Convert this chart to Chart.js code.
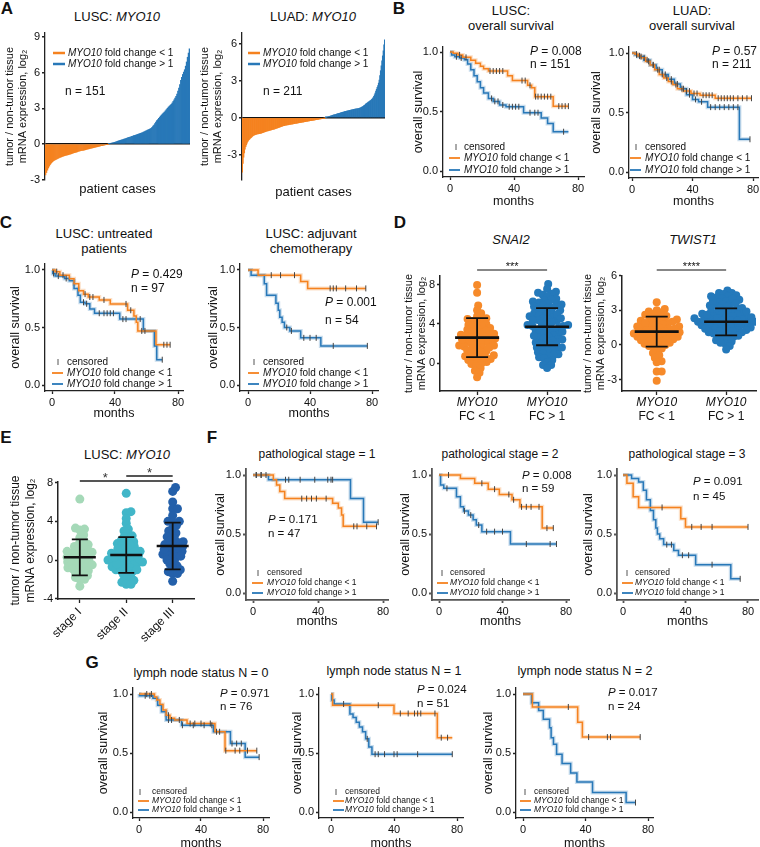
<!DOCTYPE html>
<html>
<head>
<meta charset="utf-8">
<script src="https://cdn.jsdelivr.net/npm/chart.js@4.4.1/dist/chart.umd.min.js"></script>
<style>
  body { margin: 0; width: 760px; height: 847px; position: relative; overflow: hidden; background: #fff;
         font-family: "Liberation Sans", Arial, sans-serif; color: #111; }
  canvas { position: absolute; }
  .lbl { position: absolute; transform: translate(-50%, -50%); white-space: nowrap; font-size: 13px; line-height: 15px; text-align: center; }
  .let { position: absolute; transform: translate(-50%, -50%); font-weight: bold; font-size: 17px; }
</style>
</head>
<body>
<div class="let" style="left:7px;top:9px">A</div>
<div class="let" style="left:399px;top:9px">B</div>
<div class="let" style="left:6px;top:223px">C</div>
<div class="let" style="left:400px;top:223px">D</div>
<div class="let" style="left:6px;top:438px">E</div>
<div class="let" style="left:212px;top:438px">F</div>
<div class="let" style="left:92px;top:663px">G</div>

<div class="lbl" style="left:117px;top:16px">LUSC: <i>MYO10</i></div>
<div class="lbl" style="left:313px;top:16px">LUAD: <i>MYO10</i></div>
<div class="lbl" style="left:511px;top:18px">LUSC:<br>overall survival</div>
<div class="lbl" style="left:692px;top:18px">LUAD:<br>overall survival</div>
<div class="lbl" style="left:104px;top:241px">LUSC: untreated<br>patients</div>
<div class="lbl" style="left:311px;top:241px">LUSC: adjuvant<br>chemotherapy</div>
<div class="lbl" style="left:511px;top:239px"><i>SNAI2</i></div>
<div class="lbl" style="left:693px;top:239px"><i>TWIST1</i></div>
<div class="lbl" style="left:127px;top:454px">LUSC: <i>MYO10</i></div>
<div class="lbl" style="left:317px;top:454px;font-size:12px">pathological stage = 1</div>
<div class="lbl" style="left:500px;top:454px;font-size:12px">pathological stage = 2</div>
<div class="lbl" style="left:687px;top:454px;font-size:12px">pathological stage = 3</div>
<div class="lbl" style="left:201px;top:673px;font-size:12.5px">lymph node status N = 0</div>
<div class="lbl" style="left:394px;top:671px;font-size:12.5px">lymph node status N = 1</div>
<div class="lbl" style="left:585px;top:671px;font-size:12.5px">lymph node status N = 2</div>

<script>
// ---------- A: tumor / non-tumor MYO10, sorted per patient ----------
const luscNeg = [
  -2.60,-2.40,-2.20,-2.02,-1.86,-1.72,-1.61,-1.52,-1.45,-1.39,
  -1.34,-1.29,-1.25,-1.21,-1.17,-1.13,-1.10,-1.07,-1.04,-1.01,
  -0.98,-0.96,-0.94,-0.92,-0.90,-0.87,-0.85,-0.82,-0.79,-0.76,
  -0.73,-0.71,-0.69,-0.66,-0.63,-0.61,-0.59,-0.57,-0.55,-0.53,
  -0.51,-0.49,-0.47,-0.45,-0.43,-0.41,-0.39,-0.37,-0.35,-0.33,
  -0.31,-0.29,-0.27,-0.25,-0.23,-0.21,-0.19,-0.17,-0.15,-0.13,
  -0.11,-0.09,-0.07,-0.05,-0.03,-0.01];
const luscPos = [
  0.02,0.04,0.06,0.08,0.10,0.12,0.14,0.17,0.20,0.23,
  0.26,0.29,0.31,0.34,0.36,0.39,0.42,0.44,0.47,0.50,
  0.53,0.56,0.58,0.61,0.64,0.67,0.70,0.72,0.75,0.78,
  0.81,0.84,0.87,0.90,0.93,0.96,1.00,1.04,1.08,1.12,
  1.16,1.20,1.24,1.28,1.32,1.40,1.50,1.60,1.72,1.84,
  1.96,2.06,2.16,2.26,2.36,2.45,2.54,2.62,2.70,2.80,
  2.90,3.00,3.10,3.18,3.26,3.34,3.45,3.58,3.72,3.86,
  4.00,4.20,4.45,4.70,5.00,5.35,5.60,5.85,6.05,6.25,
  6.55,6.90,7.30,7.65,8.00];
const luadNeg = [
  -4.40,-3.70,-3.20,-2.85,-2.55,-2.35,-2.20,-2.05,-1.93,-1.84,
  -1.78,-1.72,-1.66,-1.61,-1.56,-1.51,-1.46,-1.42,-1.40,-1.38,
  -1.36,-1.34,-1.32,-1.31,-1.30,-1.29,-1.28,-1.27,-1.25,-1.23,
  -1.21,-1.19,-1.17,-1.15,-1.13,-1.11,-1.09,-1.07,-1.06,-1.04,
  -1.03,-1.01,-1.00,-0.98,-0.97,-0.95,-0.94,-0.92,-0.90,-0.88,
  -0.87,-0.85,-0.83,-0.81,-0.79,-0.77,-0.75,-0.73,-0.71,-0.69,
  -0.67,-0.65,-0.64,-0.62,-0.61,-0.60,-0.59,-0.58,-0.57,-0.56,
  -0.55,-0.54,-0.53,-0.52,-0.51,-0.50,-0.49,-0.48,-0.47,-0.46,
  -0.45,-0.44,-0.43,-0.42,-0.41,-0.40,-0.39,-0.38,-0.37,-0.36,
  -0.35,-0.34,-0.33,-0.32,-0.31,-0.30,-0.29,-0.28,-0.27,-0.26,
  -0.25,-0.24,-0.23,-0.22,-0.21,-0.20,-0.19,-0.18,-0.17,-0.16,
  -0.15,-0.14,-0.13,-0.12,-0.11,-0.10,-0.09,-0.08,-0.07,-0.06,
  -0.04,-0.03,-0.01];
const luadPos = [
  0.01,0.03,0.05,0.07,0.09,0.10,0.12,0.14,0.16,0.18,
  0.19,0.21,0.23,0.24,0.26,0.28,0.29,0.31,0.33,0.34,
  0.36,0.38,0.39,0.41,0.43,0.44,0.46,0.48,0.49,0.51,
  0.52,0.53,0.55,0.56,0.58,0.59,0.60,0.62,0.63,0.64,
  0.66,0.67,0.68,0.69,0.70,0.71,0.72,0.73,0.74,0.75,
  0.77,0.79,0.82,0.85,0.88,0.92,0.96,1.00,1.05,1.10,
  1.15,1.19,1.23,1.27,1.31,1.35,1.39,1.43,1.48,1.55,
  1.62,1.72,1.85,2.00,2.15,2.30,2.45,2.60,2.80,3.05,
  3.40,3.80,4.20,4.60,5.00,5.40,5.90,6.30];
const luscTicks = [-3, 0, 3, 6, 9];
const luadTicks = [-3, 0, 3, 6];

// ---------- Kaplan-Meier: step times, survival after step, censor times ----------
const bLuscLoT = [0, 2, 5, 8, 13, 16, 19, 21, 24, 36, 39, 48.5, 51, 53, 64.5, 74];
const bLuscLoS = [1, 0.99, 0.975, 0.955, 0.93, 0.905, 0.88, 0.86, 0.84, 0.80, 0.76, 0.72, 0.70, 0.625, 0.545, 0.545];
const bLuscLoC = [6, 10, 25, 27, 29, 31, 33, 45, 47, 50, 53.5, 55, 57, 59, 61, 63, 68, 70, 72, 74];
const bLuscHiT = [0, 1, 3, 6, 9, 11, 13, 15, 17, 19, 21, 24, 27, 31, 35, 46, 57, 61, 64.5, 74];
const bLuscHiS = [1, 0.975, 0.96, 0.95, 0.935, 0.90, 0.85, 0.80, 0.75, 0.70, 0.655, 0.61, 0.585, 0.555, 0.54, 0.49, 0.445, 0.40, 0.33, 0.33];
const bLuscHiC = [4, 7, 26, 28, 30, 33, 37, 39, 41, 43, 50, 53, 55, 71];

const bLuadLoT = [0, 2, 4, 6, 9, 12, 15, 18, 21, 24, 27, 30, 34, 39, 45, 55, 79];
const bLuadLoS = [1, 0.99, 0.975, 0.96, 0.93, 0.90, 0.86, 0.82, 0.79, 0.76, 0.735, 0.70, 0.68, 0.66, 0.645, 0.62, 0.62];
const bLuadLoC = [3, 5, 8, 11, 14, 17, 20, 23, 26, 29, 33, 36, 38, 41, 43, 47, 49, 51, 53, 57, 59, 61, 63, 65, 67, 70, 73, 76, 79];
const bLuadHiT = [0, 2, 4, 8, 12, 16, 20, 24, 28, 32, 36, 40, 44, 50, 71, 78];
const bLuadHiS = [1, 0.985, 0.97, 0.94, 0.90, 0.86, 0.82, 0.78, 0.74, 0.70, 0.65, 0.61, 0.59, 0.545, 0.275, 0.275];
const bLuadHiC = [3, 6, 10, 14, 18, 22, 26, 30, 34, 38, 42, 46, 52, 55, 58, 61, 64, 67, 70, 78];

const cUntrLoT = [0, 2, 5, 11, 14, 17, 20, 23, 30, 37, 48, 52, 53.5, 54.5, 66, 75];
const cUntrLoS = [1, 0.985, 0.955, 0.925, 0.88, 0.82, 0.79, 0.765, 0.74, 0.705, 0.65, 0.60, 0.545, 0.47, 0.35, 0.35];
const cUntrLoC = [3, 7, 21, 24, 26, 33, 47, 50, 57, 59, 71, 73, 75];
const cUntrHiT = [0, 0.5, 2, 8, 11, 14, 16.5, 18, 21, 24, 27, 43, 58, 65, 66.5, 70];
const cUntrHiS = [1, 0.97, 0.947, 0.926, 0.906, 0.84, 0.78, 0.72, 0.706, 0.66, 0.624, 0.573, 0.47, 0.34, 0.22, 0.22];
const cUntrHiC = [1, 4, 9, 20, 22, 30, 33, 35, 37, 39, 45, 47, 56, 70];

const cAdjLoT = [0, 6.5, 34, 38.5, 76];
const cAdjLoS = [1, 0.955, 0.90, 0.84, 0.84];
const cAdjLoC = [15, 21, 30, 53, 55, 57, 63, 70, 76];
const cAdjHiT = [0, 2, 10.5, 12, 18, 19.5, 20.5, 22, 23.5, 27, 34, 47, 77];
const cAdjHiS = [1, 0.955, 0.88, 0.78, 0.71, 0.65, 0.59, 0.545, 0.50, 0.47, 0.41, 0.34, 0.34];
const cAdjHiC = [25, 28, 36, 40, 44, 55, 77];

const fSt1LoT = [0, 12.5, 14.5, 16.5, 19.5, 49, 52.5, 54.5, 55.5, 76];
const fSt1LoS = [1, 0.96, 0.915, 0.86, 0.80, 0.76, 0.72, 0.66, 0.565, 0.565];
const fSt1LoC = [2, 5, 30, 33, 36, 39, 45, 62, 64, 70, 76];
const fSt1HiT = [0, 9.5, 60, 68, 77];
const fSt1HiS = [1, 0.96, 0.80, 0.60, 0.60];
const fSt1HiC = [2, 5, 8, 20, 22, 29, 38, 46, 48, 49, 77];

const fSt2LoT = [0, 13.5, 22.5, 31, 38, 46, 51, 65, 72];
const fSt2LoS = [1, 0.97, 0.93, 0.88, 0.835, 0.79, 0.73, 0.55, 0.55];
const fSt2LoC = [6, 27, 35, 44, 47, 52, 55, 58, 63, 68, 72];
const fSt2HiT = [0, 1, 3, 11, 13.5, 15.5, 18.5, 21.5, 23.5, 27, 45, 74];
const fSt2HiS = [1, 0.915, 0.887, 0.816, 0.73, 0.695, 0.66, 0.62, 0.576, 0.52, 0.415, 0.415];
const fSt2HiC = [5, 16, 20, 25, 30, 35, 40, 55, 70, 74];

const fSt3LoT = [0, 2.5, 6.5, 10, 37, 40, 80];
const fSt3LoS = [1, 0.93, 0.815, 0.725, 0.63, 0.56, 0.56];
const fSt3LoC = [25, 44, 50, 57, 80];
const fSt3HiT = [0, 5.5, 10, 13, 15, 17.5, 19.5, 21, 22, 23.5, 26, 32.5, 35.5, 46.5, 69, 75];
const fSt3HiS = [1, 0.97, 0.94, 0.87, 0.79, 0.70, 0.62, 0.55, 0.50, 0.46, 0.41, 0.36, 0.32, 0.24, 0.12, 0.12];
const fSt3HiC = [28, 31, 38, 42, 57, 75];

const gN0LoT = [0, 10, 11.5, 13.5, 15.5, 17.5, 20, 23, 31, 49, 55.5, 76];
const gN0LoS = [1, 0.975, 0.95, 0.91, 0.865, 0.82, 0.795, 0.78, 0.75, 0.68, 0.52, 0.52];
const gN0LoC = [5, 8, 19, 26, 33, 36, 40, 46, 50, 56, 62, 65, 70, 76];
const gN0HiT = [0, 0.3, 9, 12, 14.5, 17.5, 27.5, 48, 59, 68.5, 77.5];
const gN0HiS = [1, 0.985, 0.965, 0.905, 0.85, 0.78, 0.735, 0.68, 0.58, 0.465, 0.465];
const gN0HiC = [4, 7, 19, 21, 28, 35, 42, 47, 52, 60, 63, 66, 77.5];

const gN1LoT = [0, 1, 40, 67.5, 77];
const gN1LoS = [1, 0.905, 0.835, 0.63, 0.63];
const gN1LoC = [30, 44, 49, 53, 55, 57, 66, 70, 74];
const gN1HiT = [0, 0.5, 2, 12, 14, 16, 18, 20, 22, 24, 26, 77];
const gN1HiS = [1, 0.95, 0.915, 0.83, 0.80, 0.76, 0.72, 0.68, 0.62, 0.55, 0.49, 0.49];
const gN1HiC = [8, 23, 28, 30, 34, 40, 42, 55, 77];

const gN2LoT = [0, 6, 35, 38, 75];
const gN2LoS = [1, 0.89, 0.76, 0.635, 0.635];
const gN2LoC = [29, 42, 54, 56, 75];
const gN2HiT = [0, 5.5, 10, 13, 17, 18, 19.5, 21.5, 25, 30.5, 34.5, 44.5, 66, 72];
const gN2HiS = [1, 0.925, 0.86, 0.785, 0.715, 0.63, 0.575, 0.49, 0.41, 0.33, 0.255, 0.165, 0.08, 0.08];
const gN2HiC = [72];

const kmXTicks = [0, 40, 80];
const kmYTicks = [0, 0.5, 1];

// ---------- D / E: per-patient expression ----------
const snaiLo = [8.0, 7.2, 5.9, 5.4, 5.1, 4.8, 4.6, 4.5, 4.4, 4.3, 4.2, 4.0, 3.9, 3.8, 3.7, 3.6, 3.5, 3.4, 3.3, 3.2,
  3.1, 3.0, 2.9, 2.9, 2.8, 2.7, 2.6, 2.6, 2.5, 2.4, 2.3, 2.2, 2.2, 2.1, 2.0, 1.9, 1.8, 1.8, 1.7, 1.6,
  1.5, 1.4, 1.3, 1.2, 1.1, 1.0, 0.9, 0.8, 0.7, 0.6, 0.5, 0.4, 0.3, 0.2, 0.1, 0.0, -0.1, -0.3, -0.5, -0.8,
  -1.0, -1.45, 3.0, 2.4, 1.6, 0.6];
const snaiHi = [8.1, 7.6, 7.3, 7.2, 7.1, 7.0, 6.8, 6.6, 6.5, 6.4, 6.3, 6.2, 6.1, 6.0, 5.9, 5.8, 5.7, 5.6, 5.5, 5.4,
  5.3, 5.2, 5.1, 5.0, 4.9, 4.8, 4.7, 4.6, 4.5, 4.4, 4.3, 4.2, 4.1, 4.0, 3.9, 3.9, 3.8, 3.7, 3.6, 3.6,
  3.5, 3.4, 3.3, 3.2, 3.1, 3.0, 2.9, 2.8, 2.7, 2.6, 2.5, 2.4, 2.3, 2.2, 2.1, 2.0, 1.9, 1.8, 1.7, 1.6,
  1.5, 1.4, 1.3, 1.2, 1.1, 1.0, 0.9, 0.8, 0.7, 0.6, 0.5, 0.3, 0.1, -0.2, -0.2, -0.5,
  4.4, 3.8, 3.2, 2.8, 5.0, 6.0, 4.6, 2.4, 1.6];
const twistLo = [3.7, 3.1, 3.0, 2.9, 2.7, 2.6, 2.5, 2.5, 2.4, 2.3, 2.2, 2.2, 2.1, 2.0, 2.0, 1.9, 1.8, 1.8, 1.7, 1.6,
  1.6, 1.5, 1.5, 1.4, 1.4, 1.3, 1.3, 1.2, 1.2, 1.1, 1.1, 1.0, 1.0, 0.9, 0.9, 0.8, 0.8, 0.7, 0.7, 0.6,
  0.6, 0.5, 0.5, 0.4, 0.3, 0.3, 0.2, 0.1, 0.0, 0.0, -0.1, -0.2, -0.3, -0.5, -0.7, -0.9, -1.1, -1.4, -1.5, -2.3,
  -2.3, -3.1, 1.9, 1.0, 0.4, 2.8];
const twistHi = [4.7, 4.5, 4.5, 4.4, 4.3, 4.2, 4.1, 4.0, 3.9, 3.8, 3.7, 3.6, 3.5, 3.4, 3.3, 3.2, 3.2, 3.1, 3.0, 3.0,
  2.9, 2.8, 2.8, 2.7, 2.6, 2.6, 2.5, 2.5, 2.4, 2.4, 2.3, 2.3, 2.2, 2.2, 2.1, 2.1, 2.0, 2.0, 2.0, 1.9,
  1.9, 1.8, 1.8, 1.7, 1.7, 1.6, 1.6, 1.5, 1.5, 1.4, 1.4, 1.3, 1.3, 1.2, 1.2, 1.1, 1.0, 1.0, 0.9, 0.8,
  0.7, 0.6, 0.5, 0.4, 0.3, 0.1, -0.1, -0.4, 4.0, 3.4, 2.7, 2.1, 1.7, 1.1, 2.9, 3.6, 2.4, 1.8, 0.8, 3.8,
  4.2, 2.2, 1.4, 0.2, 2.6];
const snaiMean = [2.6, 3.72], snaiSd = [2.0, 1.9];
const twistMean = [1.15, 2.0], twistSd = [1.3, 1.17];
const snaiTicks = [0, 4, 8];
const twistTicks = [-3, 0, 3, 6];
const fcLabels = ['FC < 1', 'FC > 1'];

const stageI = [6.3, 3.3, 3.2, 3.1, 2.6, 2.3, 2.0, 1.8, 1.6, 1.4, 1.3, 1.1, 1.0, 0.9, 0.8, 0.7, 0.6, 0.5, 0.4, 0.3,
  0.2, 0.1, 0.0, 0.0, -0.1, -0.2, -0.3, -0.4, -0.5, -0.6, -0.7, -0.8, -0.9, -1.0, -1.1, -1.2, -1.3, -1.5, -1.6, -1.8,
  -2.0, -2.0, -2.7, 1.5, 0.5, -0.5, 0.9];
const stageII = [6.9, 5.0, 4.9, 4.3, 3.8, 3.2, 3.0, 2.7, 2.4, 2.2, 2.0, 1.8, 1.7, 1.5, 1.4, 1.2, 1.1, 1.0, 0.9, 0.8,
  0.7, 0.6, 0.5, 0.4, 0.3, 0.2, 0.1, 0.0, 0.0, -0.1, -0.2, -0.3, -0.4, -0.5, -0.6, -0.7, -0.8, -0.9, -1.0, -1.1,
  -1.2, -1.3, -1.5, -1.7, -1.9, -2.1, -2.3, -2.5, -2.5, 1.3, 0.6, -0.4, 2.5, 1.9, 0.3, -1.0, 0.8, -0.2, 1.6];
const stageIII = [7.5, 7.1, 6.0, 5.3, 5.3, 4.6, 4.0, 4.0, 3.9, 3.6, 3.3, 3.0, 2.8, 2.6, 2.4, 2.2, 2.0, 1.9, 1.8, 1.6,
  1.5, 1.4, 1.3, 1.2, 1.0, 0.9, 0.8, 0.7, 0.6, 0.5, 0.3, 0.2, 0.0, -0.2, -0.4, -0.6, -0.8, -1.0, -1.2, -1.4,
  -1.4, -2.2, 1.7, 1.1, 0.4];
const stageMean = [0.28, 0.52, 1.45], stageSd = [1.86, 1.85, 2.41];
const stageTicks = [-4, 0, 4, 8];
const stageLabels = ['stage I', 'stage II', 'stage III'];

// ---------- styling ----------
const FONT = '"Liberation Sans", Arial, sans-serif';
const INK = '#111';
const ORANGE = '#f5821f', BLUE = '#2878b8';
const ORANGE_HALO = 'rgba(245,130,31,0.25)', BLUE_HALO = 'rgba(40,120,184,0.25)';
const DOT_ORANGE = '#f68a2a', DOT_BLUE = '#2479bb';
const STAGE_COLORS = ['#a5d9b8', '#41b6c8', '#2460aa'];
const AX_TITLE = ['tumor / non-tumor tissue', 'mRNA expression, log\u2082'];

Chart.defaults.font.family = FONT;
Chart.defaults.color = INK;

function mk(left, top, w, h) {
  const c = document.createElement('canvas');
  c.width = w; c.height = h;
  c.style.left = left + 'px'; c.style.top = top + 'px';
  document.body.appendChild(c);
  return c;
}

function fontOf(size, italic) { return (italic ? 'italic ' : '') + size + 'px ' + FONT; }

// text with _italic_ parts
function drawRich(ctx, str, x, y, size, align) {
  const parts = str.split('_');
  let w = 0;
  parts.forEach((p, i) => { ctx.font = fontOf(size, i % 2); w += ctx.measureText(p).width; });
  let cx = align === 'center' ? x - w / 2 : align === 'right' ? x - w : x;
  ctx.textAlign = 'left'; ctx.textBaseline = 'middle';
  parts.forEach((p, i) => { ctx.font = fontOf(size, i % 2); ctx.fillText(p, cx, y); cx += ctx.measureText(p).width; });
}

const notesPlugin = {
  id: 'notes',
  afterDraw(chart) {
    const o = chart.canvas.notes;
    if (!o) return;
    const ctx = chart.ctx;
    const px = (v, d) => d ? chart.scales.x.getPixelForValue(v) : v - o.ox;
    const py = (v, d) => d ? chart.scales.y.getPixelForValue(v) : v - o.oy;
    ctx.save();
    o.items.forEach(it => {
      if (it.k === 'text') {
        ctx.fillStyle = it.color || INK;
        drawRich(ctx, it.s, px(it.x, it.dx), py(it.y, it.dy), it.size || 12, it.align || 'left');
      } else if (it.k === 'line') {
        ctx.strokeStyle = it.color || INK; ctx.lineWidth = it.w || 1;
        ctx.beginPath();
        ctx.moveTo(px(it.x, it.dx), py(it.y, it.dy));
        ctx.lineTo(px(it.x2, it.dx), py(it.y2 === undefined ? it.y : it.y2, it.dy));
        ctx.stroke();
      } else if (it.k === 'mark') {
        const x = px(it.x), y = py(it.y);
        ctx.strokeStyle = '#555'; ctx.lineWidth = 1;
        ctx.beginPath(); ctx.moveTo(x, y - 3); ctx.lineTo(x, y + 3); ctx.stroke();
      }
    });
    ctx.restore();
  }
};

const errPlugin = {
  id: 'errs',
  afterDatasetsDraw(chart) {
    const e = chart.canvas.errs;
    if (!e) return;
    const ctx = chart.ctx, xs = chart.scales.x, ys = chart.scales.y;
    ctx.save(); ctx.strokeStyle = INK;
    e.mean.forEach((m, i) => {
      const x = xs.getPixelForValue(i), ym = ys.getPixelForValue(m);
      const y1 = ys.getPixelForValue(m + e.sd[i]), y2 = ys.getPixelForValue(m - e.sd[i]);
      ctx.lineWidth = 2.6;
      ctx.beginPath(); ctx.moveTo(x - e.hw, ym); ctx.lineTo(x + e.hw, ym); ctx.stroke();
      ctx.lineWidth = 1.8;
      ctx.beginPath();
      ctx.moveTo(x, y1); ctx.lineTo(x, y2);
      ctx.moveTo(x - e.cw, y1); ctx.lineTo(x + e.cw, y1);
      ctx.moveTo(x - e.cw, y2); ctx.lineTo(x + e.cw, y2);
      ctx.stroke();
    });
    ctx.restore();
  }
};
Chart.register(notesPlugin, errPlugin);

const fixedTicks = list => s => { s.ticks = list.map(v => ({ value: v })); };

// ---------- A: waterfall ----------
function waterfall(neg, pos, ticks, g) {
  const vals = neg.concat(pos);
  const left = Math.round(g.titleX - 6.6), top = g.ax[1] - 10, right = g.ax[2] + 4, bottom = Math.round(g.xTitleY + 7.8);
  const ppu = (g.y0 - g.yRef) / g.refVal;
  const cv = mk(left, top, right - left, bottom - top);
  cv.notes = { ox: left, oy: top, items: g.items };
  new Chart(cv, {
    type: 'bar',
    data: {
      labels: vals.map((v, i) => i + 1),
      datasets: [{ data: vals, backgroundColor: vals.map(v => v < 0 ? ORANGE : BLUE),
                   barPercentage: 1, categoryPercentage: 1, borderWidth: 0 }]
    },
    options: {
      responsive: false, animation: false, events: [],
      layout: { padding: { top: g.ax[1] - top, right: right - g.ax[2], left: 0, bottom: 0 } },
      plugins: { legend: { display: false }, tooltip: { enabled: false } },
      scales: {
        x: {
          ticks: { display: false }, grid: { display: false }, border: { display: false },
          title: { display: true, text: 'patient cases', font: { size: 13, lineHeight: 1.2 }, padding: 0 },
          afterFit: s => { s.height = bottom - g.ax[3]; }
        },
        y: {
          min: (g.y0 - g.ax[3]) / ppu, max: (g.y0 - g.ax[1]) / ppu,
          afterBuildTicks: fixedTicks(ticks),
          grid: { drawOnChartArea: true, color: c => (c.tick && c.tick.value === 0) ? '#111' : 'rgba(0,0,0,0)',
                  lineWidth: 1.5, tickColor: '#222', tickLength: 3 },
          border: { color: '#222', width: 1.3 },
          ticks: { font: { size: 11 }, padding: 2 },
          title: { display: true, text: AX_TITLE, font: { size: 11, lineHeight: 1.2 }, padding: 0 },
          afterFit: s => { s.width = g.ax[0] - left; }
        }
      }
    }
  });
}

waterfall(luscNeg, luscPos, luscTicks, {
  ax: [45, 33, 190, 180], y0: 144, yRef: 37, refVal: 9, titleX: 10, xTitleY: 189,
  items: [
    { k: 'line', x: 53, x2: 65, y: 53, color: ORANGE, w: 2.5 },
    { k: 'text', x: 68, y: 53, s: '_MYO10_ fold change < 1', size: 10 },
    { k: 'line', x: 53, x2: 65, y: 64, color: BLUE, w: 2.5 },
    { k: 'text', x: 68, y: 64, s: '_MYO10_ fold change > 1', size: 10 },
    { k: 'text', x: 65, y: 92, s: 'n = 151', size: 12 }
  ]
});
waterfall(luadNeg, luadPos, luadTicks, {
  ax: [242, 33, 385, 180], y0: 117.7, yRef: 43.5, refVal: 6, titleX: 205, xTitleY: 192,
  items: [
    { k: 'line', x: 248, x2: 260, y: 53, color: ORANGE, w: 2.5 },
    { k: 'text', x: 263, y: 53, s: '_MYO10_ fold change < 1', size: 10 },
    { k: 'line', x: 248, x2: 260, y: 64, color: BLUE, w: 2.5 },
    { k: 'text', x: 263, y: 64, s: '_MYO10_ fold change > 1', size: 10 },
    { k: 'text', x: 263, y: 92, s: 'n = 211', size: 12 }
  ]
});

// ---------- Kaplan-Meier ----------
function survAt(t, ts, ss) {
  let s = ss[0];
  for (let i = 0; i < ts.length; i++) if (ts[i] <= t) s = ss[i];
  return s;
}
function kmSets(g, color, halo, ord) {
  const pts = g[0].map((t, i) => ({ x: t, y: g[1][i] }));
  const cens = g[2].map(t => ({ x: t, y: survAt(t, g[0], g[1]) }));
  return [
    { type: 'line', data: pts, borderColor: halo, borderWidth: 4, stepped: true, pointRadius: 0, fill: false, order: 9 },
    { type: 'line', data: pts, borderColor: color, borderWidth: 1.5, stepped: true, pointRadius: 0, fill: false, order: ord },
    { type: 'scatter', data: cens, pointStyle: 'line', pointRotation: 90, pointRadius: 3,
      pointBorderColor: '#444', pointBorderWidth: 1, order: 0 }
  ];
}

function km(sp) {
  const lh = 15;
  const left = Math.round(sp.titleX - lh / 2), top = sp.ax[1] - 10;
  const right = sp.ax[2] + 6, bottom = Math.round(sp.monthsY + lh / 2);
  const ppm = (sp.x80 - sp.x0) / 80, ppu = sp.y0 - sp.y1;
  const cv = mk(left, top, right - left, bottom - top);
  const L = sp.leg, ls = L.size;
  cv.notes = { ox: left, oy: top, items: [
    { k: 'text', x: sp.sx, y: sp.sy[0], s: sp.stat[0], size: sp.ss },
    { k: 'text', x: sp.sx, y: sp.sy[1], s: sp.stat[1], size: sp.ss },
    { k: 'mark', x: L.mark, y: L.ys[0] },
    { k: 'text', x: L.tx, y: L.ys[0], s: 'censored', size: ls },
    { k: 'line', x: L.l0, x2: L.l1, y: L.ys[1], color: ORANGE, w: 1.8 },
    { k: 'text', x: L.tx, y: L.ys[1], s: '_MYO10_ fold change < 1', size: ls },
    { k: 'line', x: L.l0, x2: L.l1, y: L.ys[2], color: BLUE, w: 1.8 },
    { k: 'text', x: L.tx, y: L.ys[2], s: '_MYO10_ fold change > 1', size: ls }
  ] };
  const axis = sp.axis || '#222', aw = sp.aw || 1.3;
  const datasets = kmSets(sp.hi, BLUE, BLUE_HALO, 3).concat(kmSets(sp.lo, ORANGE, ORANGE_HALO, 2));
  new Chart(cv, {
    type: 'scatter',
    data: { datasets },
    options: {
      responsive: false, animation: false, events: [],
      layout: { padding: { top: sp.ax[1] - top, right: right - sp.ax[2], left: 0, bottom: 0 } },
      plugins: { legend: { display: false }, tooltip: { enabled: false } },
      scales: {
        x: {
          type: 'linear', min: (sp.ax[0] - sp.x0) / ppm, max: (sp.ax[2] - sp.x0) / ppm,
          afterBuildTicks: fixedTicks(kmXTicks),
          grid: { drawOnChartArea: false, tickLength: 3, tickColor: axis, tickWidth: aw },
          border: { color: axis, width: aw },
          ticks: { font: { size: 11 }, padding: 2 },
          title: { display: true, text: 'months', font: { size: 12.5, lineHeight: 1.2 }, padding: 0 },
          afterFit: s => { s.height = bottom - sp.ax[3]; }
        },
        y: {
          min: (sp.y0 - sp.ax[3]) / ppu, max: (sp.y0 - sp.ax[1]) / ppu,
          afterBuildTicks: fixedTicks(kmYTicks),
          grid: { drawOnChartArea: false, tickLength: 3, tickColor: axis, tickWidth: aw },
          border: { color: axis, width: aw },
          ticks: { font: { size: 11 }, padding: 2, callback: v => v.toFixed(1) },
          title: { display: true, text: 'overall survival', font: { size: 12.5, lineHeight: 1.2 }, padding: 0 },
          afterFit: s => { s.width = sp.ax[0] - left; }
        }
      }
    }
  });
}

const legB = (mark, l0, tx, ys) => ({ mark, l0, l1: l0 + 11, tx, ys, size: 10 });
const legF = (mark, l0, tx, ys) => ({ mark, l0, l1: l0 + 11, tx, ys, size: 8.5 });

km({ ax: [443, 47, 584, 177], x0: 450, x80: 578, y1: 52, y0: 171, titleX: 418, monthsY: 201,
     lo: [bLuscLoT, bLuscLoS, bLuscLoC], hi: [bLuscHiT, bLuscHiS, bLuscHiC],
     stat: ['_P_ = 0.008', 'n = 151'], sx: 530, sy: [52, 65], ss: 12, leg: legB(456, 449, 464, [147, 158, 170]) });
km({ ax: [629, 47, 758, 178], x0: 632, x80: 753, y1: 53, y0: 172, titleX: 596, monthsY: 201,
     lo: [bLuadLoT, bLuadLoS, bLuadLoC], hi: [bLuadHiT, bLuadHiS, bLuadHiC],
     stat: ['_P_ = 0.57', 'n = 211'], sx: 712, sy: [52, 65], ss: 12, leg: legB(636, 630, 645, [147, 158, 170]) });
km({ ax: [45, 264, 183, 391], x0: 52, x80: 178, y1: 270, y0: 385, titleX: 15, monthsY: 413,
     lo: [cUntrLoT, cUntrLoS, cUntrLoC], hi: [cUntrHiT, cUntrHiS, cUntrHiC],
     stat: ['_P_ = 0.429', 'n = 97'], sx: 131, sy: [275, 289], ss: 12, leg: legB(58, 52, 67, [362, 373, 384]) });
km({ ax: [240, 264, 378, 391], x0: 248, x80: 372, y1: 270, y0: 385, titleX: 213, monthsY: 413,
     lo: [cAdjLoT, cAdjLoS, cAdjLoC], hi: [cAdjHiT, cAdjHiS, cAdjHiC],
     stat: ['_P_ = 0.001', 'n = 54'], sx: 325, sy: [303, 321], ss: 12, leg: legB(254, 248, 263, [362, 373, 384]) });

km({ ax: [246, 469, 388, 600], x0: 253, x80: 383, y1: 475, y0: 593, titleX: 220, monthsY: 621,
     lo: [fSt1LoT, fSt1LoS, fSt1LoC], hi: [fSt1HiT, fSt1HiS, fSt1HiC], axis: '#555', aw: 1.8,
     stat: ['_P_ = 0.171', 'n = 47'], sx: 268, sy: [520, 534], ss: 11.5, leg: legF(258, 252, 267, [573, 583, 593]) });
km({ ax: [432, 469, 569, 600], x0: 439, x80: 566, y1: 475, y0: 593, titleX: 405, monthsY: 621,
     lo: [fSt2LoT, fSt2LoS, fSt2LoC], hi: [fSt2HiT, fSt2HiS, fSt2HiC], axis: '#555', aw: 1.8,
     stat: ['_P_ = 0.008', 'n = 59'], sx: 522, sy: [476, 489], ss: 11.5, leg: legF(442, 437, 450, [573, 583, 593]) });
km({ ax: [617, 469, 758, 600], x0: 623, x80: 748, y1: 475, y0: 593, titleX: 588, monthsY: 621,
     lo: [fSt3LoT, fSt3LoS, fSt3LoC], hi: [fSt3HiT, fSt3HiS, fSt3HiC], axis: '#555', aw: 1.8,
     stat: ['_P_ = 0.091', 'n = 45'], sx: 693, sy: [482, 497], ss: 11.5, leg: legF(627, 622, 635, [573, 583, 593]) });

km({ ax: [133, 688, 269, 818], x0: 139, x80: 263, y1: 694, y0: 812, titleX: 103, monthsY: 843,
     lo: [gN0LoT, gN0LoS, gN0LoC], hi: [gN0HiT, gN0HiS, gN0HiC],
     stat: ['_P_ = 0.971', 'n = 76'], sx: 220, sy: [694, 707], ss: 11.5, leg: legF(140, 138, 152, [792, 801, 810]) });
km({ ax: [319, 688, 463, 818], x0: 331, x80: 457, y1: 694, y0: 812, titleX: 297, monthsY: 843,
     lo: [gN1LoT, gN1LoS, gN1LoC], hi: [gN1HiT, gN1HiS, gN1HiC],
     stat: ['_P_ = 0.024', 'n = 51'], sx: 417, sy: [690, 704], ss: 11.5, leg: legF(336, 333, 345, [792, 801, 810]) });
km({ ax: [516, 688, 653, 818], x0: 523, x80: 648, y1: 694, y0: 812, titleX: 488, monthsY: 843,
     lo: [gN2LoT, gN2LoS, gN2LoC], hi: [gN2HiT, gN2HiS, gN2HiC],
     stat: ['_P_ = 0.017', 'n = 24'], sx: 608, sy: [693, 707], ss: 11.5, leg: legF(525, 520, 534, [792, 801, 810]) });

// ---------- D / E: dot plots with mean ± SD ----------
function swarm(vals, yppu, gap) {
  const order = vals.map((v, i) => i).sort((a, b) => vals[a] - vals[b]);
  const placed = [], off = new Array(vals.length).fill(0);
  order.forEach(i => {
    const y = vals[i] * yppu;
    const near = placed.filter(p => Math.abs(p.y - y) < gap);
    const cands = [0];
    near.forEach(p => { const dx = Math.sqrt(gap * gap - (p.y - y) ** 2); cands.push(p.x + dx, p.x - dx); });
    cands.sort((a, b) => Math.abs(a) - Math.abs(b));
    let x = cands.find(c => near.every(p => (p.x - c) ** 2 + (p.y - y) ** 2 >= gap * gap - 0.01));
    if (x === undefined) x = 0;
    placed.push({ x, y });
    off[i] = x;
  });
  return off;
}

function dots(sp) {
  const left = Math.round(sp.titleX - sp.tsize * sp.tlh / 2), top = sp.top, right = sp.right, bottom = sp.bottom;
  const cv = mk(left, top, right - left, bottom - top);
  const yppu = (sp.ax[3] - sp.ax[1]) / (sp.ymax - sp.ymin);
  const xppu = (sp.ax[2] - sp.ax[0]) / (sp.xmax - sp.xmin);
  const datasets = sp.groups.map((g, gi) => {
    const off = swarm(g.vals, yppu, sp.gap);
    return { data: g.vals.map((v, i) => ({ x: gi + off[i] / xppu, y: v })),
             pointRadius: sp.r, pointBackgroundColor: g.color, pointBorderWidth: 0 };
  });
  cv.errs = { mean: sp.mean, sd: sp.sd, hw: sp.hw, cw: sp.cw };
  cv.notes = { ox: left, oy: top, items: sp.items };
  new Chart(cv, {
    type: 'scatter',
    data: { datasets },
    options: {
      responsive: false, animation: false, events: [],
      layout: { padding: { top: sp.ax[1] - top, right: right - sp.ax[2], left: 0, bottom: 0 } },
      plugins: { legend: { display: false }, tooltip: { enabled: false } },
      scales: {
        x: {
          type: 'linear', min: sp.xmin, max: sp.xmax,
          afterBuildTicks: fixedTicks(sp.groups.map((g, i) => i)),
          grid: { drawOnChartArea: false, tickLength: 4, tickColor: '#222', tickWidth: 1.3 },
          border: { color: '#222', width: 1.5 },
          ticks: sp.xLabels
            ? { display: true, minRotation: 45, maxRotation: 45, autoSkip: false, font: { size: 12 }, padding: 2,
                callback: (v, i) => sp.xLabels[i] }
            : { display: false },
          afterFit: s => { s.height = bottom - sp.ax[3]; }
        },
        y: {
          min: sp.ymin, max: sp.ymax,
          afterBuildTicks: fixedTicks(sp.ticks),
          grid: { drawOnChartArea: false, tickLength: 3, tickColor: '#222', tickWidth: 1.3 },
          border: { color: '#222', width: 1.5 },
          ticks: { font: { size: 11 }, padding: 2 },
          title: { display: true, text: AX_TITLE, font: { size: sp.tsize, lineHeight: sp.tlh }, padding: 0 },
          afterFit: s => { s.width = sp.ax[0] - left; }
        }
      }
    }
  });
}

function fcItems(stars) {
  return [
    { k: 'text', x: 0, dx: true, y: 403, s: '_MYO10_', size: 12, align: 'center' },
    { k: 'text', x: 0, dx: true, y: 417, s: fcLabels[0], size: 12, align: 'center' },
    { k: 'text', x: 1, dx: true, y: 403, s: '_MYO10_', size: 12, align: 'center' },
    { k: 'text', x: 1, dx: true, y: 417, s: fcLabels[1], size: 12, align: 'center' },
    { k: 'line', x: 0, x2: 1, dx: true, y: 270, w: 1.2 },
    { k: 'text', x: 0.5, dx: true, y: 267, s: stars, size: 11, align: 'center' }
  ];
}

dots({ ax: [440, 276, 580, 391], ymin: -2.87, ymax: 8.92, xmin: -0.53, xmax: 1.47,
       titleX: 409, tsize: 11, tlh: 1.2, top: 255, right: 584, bottom: 425,
       groups: [{ vals: snaiLo, color: DOT_ORANGE }, { vals: snaiHi, color: DOT_BLUE }],
       mean: snaiMean, sd: snaiSd, ticks: snaiTicks, r: 4, gap: 5, hw: 22, cw: 11,
       items: fcItems('***') });
dots({ ax: [622, 276, 757, 391], ymin: -3.98, ymax: 5.96, xmin: -0.5, xmax: 1.43,
       titleX: 588, tsize: 11, tlh: 1.2, top: 255, right: 760, bottom: 425,
       groups: [{ vals: twistLo, color: DOT_ORANGE }, { vals: twistHi, color: DOT_BLUE }],
       mean: twistMean, sd: twistSd, ticks: twistTicks, r: 4, gap: 5, hw: 22, cw: 11,
       items: fcItems('****') });
dots({ ax: [58, 482, 195, 599], ymin: -4.03, ymax: 8.07, xmin: -0.47, xmax: 2.47,
       titleX: 15, tsize: 12, tlh: 1.25, top: 462, right: 199, bottom: 650,
       groups: [{ vals: stageI, color: STAGE_COLORS[0] }, { vals: stageII, color: STAGE_COLORS[1] },
                { vals: stageIII, color: STAGE_COLORS[2] }],
       mean: stageMean, sd: stageSd, ticks: stageTicks, r: 4.5, gap: 4.8, hw: 16, cw: 8,
       xLabels: stageLabels,
       items: [
         { k: 'line', x: 0, x2: 2, dx: true, y: 481, color: '#555', w: 2 },
         { k: 'line', x: 1, x2: 2, dx: true, y: 476, color: '#555', w: 2 },
         { k: 'text', x: 0.55, dx: true, y: 478, s: '*', size: 13, color: '#333', align: 'center' },
         { k: 'text', x: 1.5, dx: true, y: 473, s: '*', size: 13, color: '#333', align: 'center' }
       ] });
</script>
</body>
</html>
